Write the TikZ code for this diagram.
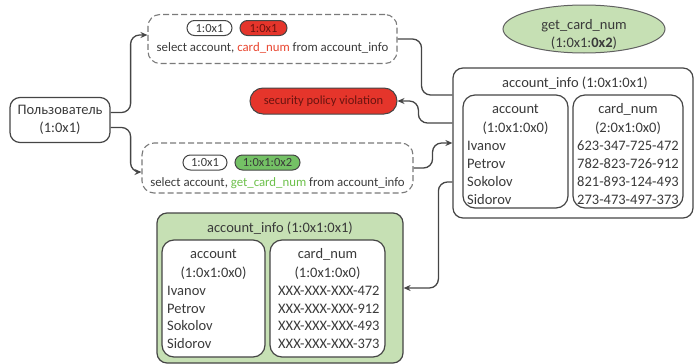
\documentclass[tikz,border=0pt]{standalone}
\usepackage{fontspec}
\setmainfont{Carlito}
\usetikzlibrary{arrows.meta,shapes.geometric,calc}
\definecolor{ink}{HTML}{3A3A3A}
\definecolor{edge}{HTML}{454545}
\definecolor{dashgray}{HTML}{7A7A7A}
\definecolor{redfill}{HTML}{E5352B}
\definecolor{redink}{HTML}{6A1410}
\definecolor{redtext}{HTML}{E8452F}
\definecolor{greenfill}{HTML}{C6E0B4}
\definecolor{greenpill}{HTML}{74C165}
\definecolor{greentext}{HTML}{6CC04A}

\begin{document}
\begin{tikzpicture}[x=1pt,y=-1pt,
  every node/.style={text=ink, font=\fontsize{14.5}{18}\selectfont},
  box/.style={draw=edge, line width=1.2pt, rounded corners=10pt, inner sep=0pt},
  col/.style={box, rounded corners=12pt, fill=white},
  query/.style={draw=dashgray, dash pattern=on 6pt off 3pt, line width=1.1pt,
                rounded corners=12pt, inner sep=0pt},
  pill/.style={draw=edge, line width=1pt, rounded corners=7.5pt, minimum height=15pt,
               inner sep=0pt, font=\fontsize{12.5}{14}\selectfont},
  small/.style={font=\fontsize{12.8}{15}\selectfont},
  txt/.style={inner sep=0pt, anchor=base},
  item/.style={inner sep=0pt, anchor=base west},
  conn/.style={draw=edge, line width=1.3pt, rounded corners=9pt},
  arr/.style={conn, -{Stealth[length=7pt,width=6pt]}},
  ]
\useasboundingbox (0,0) rectangle (697,364);

% user
\node[box, minimum width=100pt, minimum height=45pt, align=center] (u) at (60,120)
  {Пользователь\\(1:0x1)};

% first query: direct column access
\node[query, minimum width=249pt, minimum height=49pt] (q1) at (272.5,39) {};
\node[pill, minimum width=45pt, fill=white] (q1a) at (209.5,28) {1:0x1};
\node[pill, minimum width=47pt, fill=redfill, text=redink] (q1b) at (263.5,28) {1:0x1};
\node[txt, small] (q1t) at (272.5,52) {select account, \textcolor{redtext}{card\_num} from account\_info};

% second query: through the function
\node[query, minimum width=271pt, minimum height=50pt] (q2) at (277.5,168) {};
\node[pill, minimum width=44pt, fill=white] (q2a) at (205,162.5) {1:0x1};
\node[pill, minimum width=65pt, fill=greenpill] (q2b) at (267.5,162.5) {1:0x1:0x2};
\node[txt, small] (q2t) at (277.5,186.5) {select account, \textcolor{greentext}{get\_card\_num} from account\_info};

% violation
\node[pill, minimum width=147pt, minimum height=26pt, rounded corners=13pt,
      fill=redfill, text=redink] (viol) at (323.5,101) {security policy violation};

% function
\node[ellipse, draw=edge!85, fill=greenfill, line width=1pt, minimum width=162pt,
      minimum height=48pt, inner sep=0pt] (fn) at (584,29) {};
\node[txt, align=center] (fnt) at (584,47.5) {get\_card\_num\\(1:0x1:\textbf{0x2})};

% table with full card numbers
\node[box, minimum width=240pt, minimum height=150pt] (ai) at (573,143) {};
\node[txt] (ait) at (575,87) {account\_info (1:0x1:0x1)};
\node[col, minimum width=105pt, minimum height=113pt] (aiA) at (515.5,151.5) {};
\node[col, minimum width=110pt, minimum height=113pt] (aiB) at (628,151.5) {};
\node[txt] (aiA1) at (515.5,113) {account};
\node[txt] (aiA2) at (515.5,132) {(1:0x1:0x0)};
\node[txt] (aiB1) at (628,113) {card\_num};
\node[txt] (aiB2) at (628,132) {(2:0x1:0x0)};
\node[item] (aiA3) at (467,150) {Ivanov};
\node[item] (aiA4) at (467,168) {Petrov};
\node[item] (aiA5) at (467,186) {Sokolov};
\node[item] (aiA6) at (467,204) {Sidorov};
\node[item] (aiB3) at (577,150) {623-347-725-472};
\node[item] (aiB4) at (577,168) {782-823-726-912};
\node[item] (aiB5) at (577,186) {821-893-124-493};
\node[item] (aiB6) at (577,204) {273-473-497-373};

% table with masked card numbers
\node[box, minimum width=246pt, minimum height=150pt, fill=greenfill] (gb) at (280,288) {};
\node[txt] (gbt) at (280,232) {account\_info (1:0x1:0x1)};
\node[col, minimum width=103pt, minimum height=117pt] (gbA) at (213.5,298.5) {};
\node[col, minimum width=115pt, minimum height=117pt] (gbB) at (327.5,298.5) {};
\node[txt] (gbA1) at (213.5,258) {account};
\node[txt] (gbA2) at (213.5,277) {(1:0x1:0x0)};
\node[txt] (gbB1) at (327.5,258) {card\_num};
\node[txt] (gbB2) at (327.5,277) {(1:0x1:0x0)};
\node[item] (gbA3) at (167,295) {Ivanov};
\node[item] (gbA4) at (167,313) {Petrov};
\node[item] (gbA5) at (167,330.5) {Sokolov};
\node[item] (gbA6) at (167,348) {Sidorov};
\node[item] (gbB3) at (278,295) {XXX-XXX-XXX-472};
\node[item] (gbB4) at (278,313) {XXX-XXX-XXX-912};
\node[item] (gbB5) at (278,330.5) {XXX-XXX-XXX-493};
\node[item] (gbB6) at (278,348) {XXX-XXX-XXX-373};

% connectors
\draw[arr] ([yshift=7.5pt]u.east) -- ++(20,0) |- ([yshift=4pt]q1.west);
\draw[arr] ([yshift=-7.5pt]u.east) -- ++(20,0) |- ([yshift=-4pt]q2.west);
\draw[conn] (q1.east) -- ++(24,0) |- ([yshift=48pt]ai.west);
\draw[arr] ([yshift=20pt]ai.west) -- ++(-34,0) |- (viol.east);
\draw[arr] (q2.east) -- ++(19,0) |- (ai.west);
\draw[arr] ([yshift=-39pt]ai.west) -- ++(-14,0) |- (gb.east);
\end{tikzpicture}
\end{document}
